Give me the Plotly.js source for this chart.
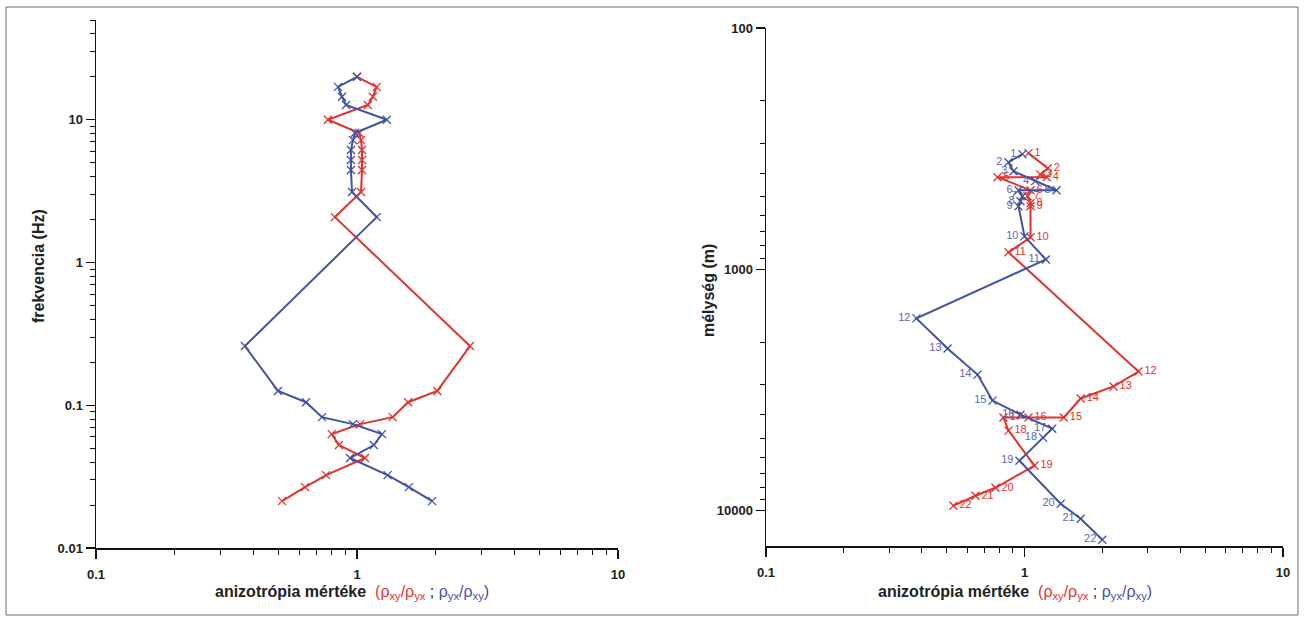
<!DOCTYPE html>
<html>
<head>
<meta charset="utf-8">
<script src="https://cdn.plot.ly/plotly-3.0.1.min.js"></script>
<style>
  html, body { margin: 0; padding: 0; background: #fff; }
  #chart { width: 1304px; height: 621px; }
</style>
</head>
<body>
<div id="chart"></div>
<script>
// Left panel: anisotropy ratio versus frequency (Hz)
const freqHz = [20, 17, 14.5, 12.7, 10, 8.07, 7.2, 6.14, 5.22, 4.45, 3.12, 2.08,
                0.26, 0.126, 0.105, 0.0826, 0.0738, 0.0628, 0.0526, 0.0427, 0.0324, 0.0267, 0.0213];
const ratioXYfreq = [1.0, 1.19, 1.15, 1.10, 0.774, 1.02, 1.036, 1.045, 1.045, 1.045, 1.036, 0.823,
                     2.71, 2.03, 1.57, 1.37, 1.027, 0.80, 0.853, 1.073, 0.761, 0.632, 0.516];
const ratioYXfreq = [1.0, 0.846, 0.876, 0.908, 1.30, 0.982, 0.965, 0.948, 0.948, 0.948, 0.957, 1.19,
                     0.372, 0.498, 0.638, 0.734, 0.965, 1.247, 1.16, 0.94, 1.31, 1.58, 1.94];

// Right panel: anisotropy ratio versus depth (m), numbered 1..22
const pointNo = ['1','2','3','4','5','6','7','8','9','10','11','12','13','14','15','16','17','18','19','20','21','22'];
const depthXY = [330, 381, 404, 415, 415, 470, 498, 532, 548, 736, 850, 2650, 3055, 3427, 4110, 4110, 4110, 4656, 6500, 8034, 8670, 9530];
const ratioXYdepth = [1.036, 1.23, 1.15, 1.22, 0.786, 1.055, 1.027, 1.055, 1.055, 1.055, 0.867, 2.76, 2.21, 1.65, 1.42, 1.036, 0.829, 0.867, 1.093, 0.772, 0.646, 0.531];
const depthYX = [333, 360, 392, 431, 470, 470, 498, 522, 548, 730, 910, 1596, 2128, 2729, 3497, 4000, 4571, 4980, 6207, 9355, 10790, 13180];
const ratioYXdepth = [0.982, 0.867, 0.906, 1.10, 1.33, 0.948, 0.982, 0.965, 0.948, 1.0, 1.21, 0.382, 0.504, 0.658, 0.752, 0.965, 1.28, 1.18, 0.956, 1.38, 1.65, 2.0];

// Axis tick labels
const ratioTicks = [0.1, 1, 10];
const ratioTickText = ['0.1', '1', '10'];
const freqTicks = [0.01, 0.1, 1, 10];
const freqTickText = ['0.01', '0.1', '1', '10'];
const depthTicks = [100, 1000, 10000];
const depthTickText = ['100', '1000', '10000'];

const RED = '#e3322e';
const BLUE = '#4151a6';
const W = 1304, H = 621;
const px = v => v / W;
const py = v => 1 - v / H;
const FONT = 'Liberation Sans, Arial, sans-serif';

const lineStyle = c => ({ color: c, width: 2 });
const markStyle = c => ({ symbol: 'x-thin', size: 8, line: { color: c, width: 1.3 }, color: c });

const traces = [
  { x: ratioXYfreq, y: freqHz, xaxis: 'x', yaxis: 'y', mode: 'lines+markers',
    line: lineStyle(RED), marker: markStyle(RED), hoverinfo: 'skip' },
  { x: ratioYXfreq, y: freqHz, xaxis: 'x', yaxis: 'y', mode: 'lines+markers',
    line: lineStyle(BLUE), marker: markStyle(BLUE), hoverinfo: 'skip' },
  { x: ratioXYdepth, y: depthXY, xaxis: 'x2', yaxis: 'y2', mode: 'lines+markers+text',
    text: pointNo, textposition: 'middle right',
    textfont: { family: FONT, size: 11, color: RED },
    line: lineStyle(RED), marker: markStyle(RED), hoverinfo: 'skip' },
  { x: ratioYXdepth, y: depthYX, xaxis: 'x2', yaxis: 'y2', mode: 'lines+markers+text',
    text: pointNo, textposition: 'middle left',
    textfont: { family: FONT, size: 11, color: '#5a68b8' },
    line: lineStyle(BLUE), marker: markStyle(BLUE), hoverinfo: 'skip' }
];

const tickFont = { family: FONT, size: 13, color: '#222', weight: 'bold' };
const minorTicks = { ticks: 'outside', ticklen: 5, tickwidth: 1, tickcolor: '#111', dtick: 'D1', showgrid: false };

function logAxis(vals, text, extra) {
  return Object.assign({
    type: 'log', showline: true, linecolor: '#111', linewidth: 1.5,
    ticks: 'outside', ticklen: 9, tickwidth: 1.2, tickcolor: '#111',
    showgrid: false, zeroline: false,
    tickmode: 'array', tickvals: vals, ticktext: text,
    tickfont: tickFont, minor: minorTicks, fixedrange: true
  }, extra);
}

const titleFont = { family: FONT, size: 16, color: '#222' };
const xTitle = '<b>anizotrópia mértéke</b>  ' +
  '<span style="color:' + RED + '">(ρ<sub>xy</sub>/ρ<sub>yx</sub></span> ; ' +
  '<span style="color:' + BLUE + '">ρ<sub>yx</sub>/ρ<sub>xy</sub>)</span>';

const layout = {
  width: W, height: H,
  margin: { l: 0, r: 0, t: 0, b: 0 },
  paper_bgcolor: '#fff', plot_bgcolor: '#fff',
  showlegend: false,
  xaxis: logAxis(ratioTicks, ratioTickText, { domain: [px(96), px(618)], range: [-1, 1], anchor: 'y', ticklabelstandoff: 5 }),
  yaxis: logAxis(freqTicks, freqTickText, { domain: [py(548), py(20)], range: [-2, Math.log10(50)], anchor: 'x' }),
  xaxis2: logAxis(ratioTicks, ratioTickText, { domain: [px(766), px(1283)], range: [-1, 1], anchor: 'y2', ticklabelstandoff: 5 }),
  yaxis2: logAxis(depthTicks, depthTickText, { domain: [py(546), py(28)], range: [Math.log10(14000), 2], anchor: 'x2' }),
  annotations: [
    { xref: 'paper', yref: 'paper', x: px(38), y: py(266), text: '<b>frekvencia (Hz)</b>',
      textangle: -90, showarrow: false, font: titleFont, xanchor: 'center', yanchor: 'middle' },
    { xref: 'paper', yref: 'paper', x: px(708), y: py(291), text: '<b>mélység (m)</b>',
      textangle: -90, showarrow: false, font: titleFont, xanchor: 'center', yanchor: 'middle' },
    { xref: 'paper', yref: 'paper', x: px(352), y: py(592), text: xTitle,
      showarrow: false, font: titleFont, xanchor: 'center', yanchor: 'middle' },
    { xref: 'paper', yref: 'paper', x: px(1015), y: py(592), text: xTitle,
      showarrow: false, font: titleFont, xanchor: 'center', yanchor: 'middle' }
  ],
  shapes: [
    { type: 'rect', xref: 'paper', yref: 'paper', x0: px(6), x1: px(1298), y0: py(615), y1: py(7),
      line: { color: '#666', width: 1 }, fillcolor: 'rgba(0,0,0,0)', layer: 'below' }
  ]
};

Plotly.newPlot('chart', traces, layout, { staticPlot: true, displayModeBar: false });
</script>
</body>
</html>
